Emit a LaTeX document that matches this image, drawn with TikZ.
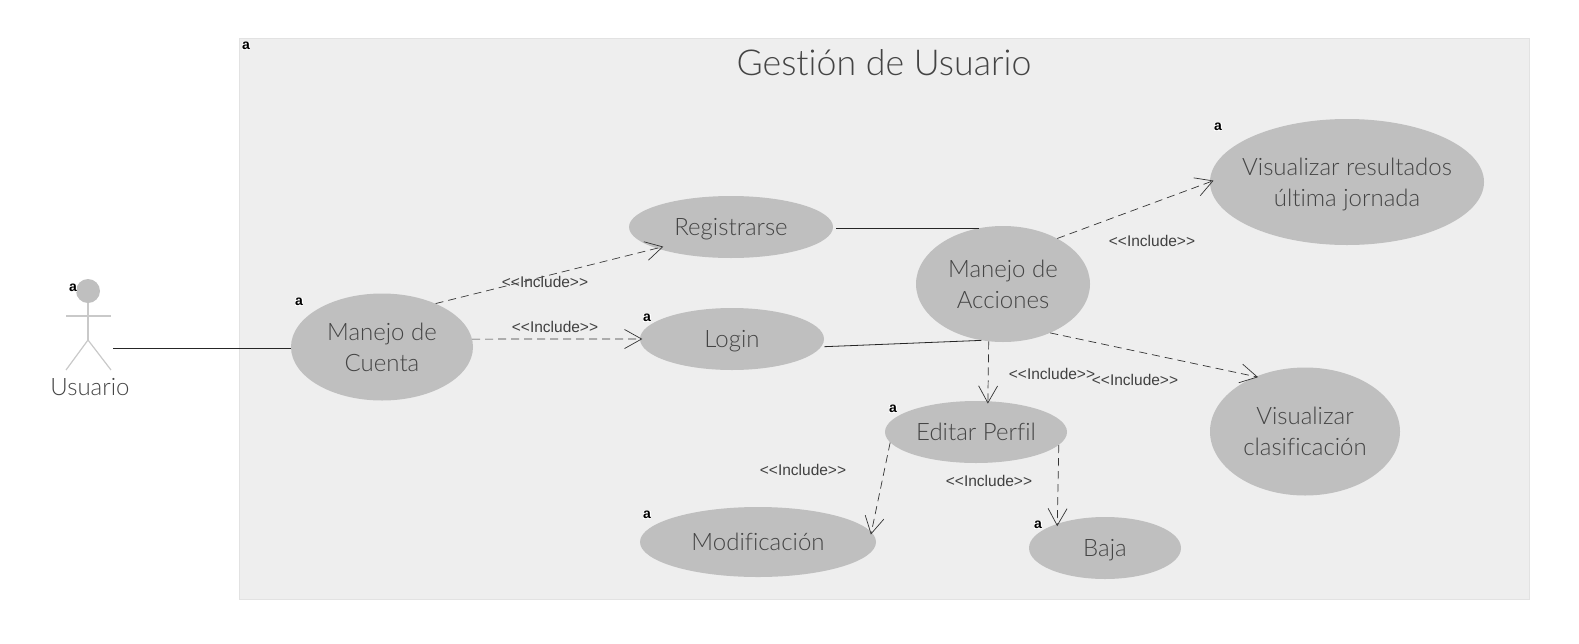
\documentclass[tikz,border=0pt]{standalone}
\usepackage{fontspec}
\setmainfont{Lato}[UprightFont=* Light,BoldFont=* Bold,Ligatures=NoCommon]
\newfontfamily\inclfont{Liberation Sans}
\usetikzlibrary{shapes.geometric,arrows.meta}
\definecolor{framefill}{HTML}{EEEEEE}
\definecolor{frameline}{HTML}{E2E2E2}
\definecolor{casefill}{HTML}{BFBFBF}
\definecolor{casetext}{HTML}{444444}
\newcommand{\caselines}[1]{\raisebox{-2.5pt}[\height][\depth]{\begin{tabular}{@{}c@{}}#1\end{tabular}}}
\tikzset{
  usecase/.style={ellipse,fill=casefill,text=casetext,inner sep=-30pt,font=\fontsize{24}{31}\selectfont},
  incl/.style={font=\inclfont\fontsize{15.5}{17}\selectfont,text=black!75},
  mark a/.style={fill=white,text=black,inner xsep=.5pt,inner ysep=0pt,font=\inclfont\fontsize{14}{14}\bfseries\selectfont},
  depline/.style={dashed,dash pattern=on 8pt off 5pt,draw=black!80,line width=.7pt,shorten >=-2.5pt,-{Straight Barb[length=17pt,width=19pt]}},
  assoc/.style={draw=black!85,line width=.8pt},
  limb/.style={draw=casefill!85!white,line width=1.2pt}
}
\begin{document}
\begin{tikzpicture}[x=1pt,y=-1pt]
  \useasboundingbox (0,0) rectangle (1579,643);
  \node[draw=frameline,fill=framefill,minimum width=1290pt,minimum height=561pt,inner sep=0pt] (frame) at (884,318.5) {};
  \node[font=\fontsize{35.7}{40}\selectfont,text=casetext] (title) at (884,63) {Gestión de Usuario};

  % actor
  \node[circle,fill=casefill,minimum size=24pt,inner sep=0pt] (head) at (88,291) {};
  \coordinate (hip) at (88,340);
  \draw[limb] (head) -- (hip);
  \draw[limb] (66,316) -- (111,316);
  \draw[limb] (66,370) -- (hip) -- (111,370);
  \node[font=\fontsize{24}{26}\selectfont,text=casetext] (usuario) at (90,387) {Usuario};
  \coordinate (hand) at (113,348);

  % use cases
  \node[usecase,minimum width=182pt,minimum height=107pt] (cuenta) at (382,347) {\caselines{Manejo de\\Cuenta}};
  \node[usecase,minimum width=204pt,minimum height=62pt] (registro) at (731,227) {\caselines{Registrarse}};
  \node[usecase,minimum width=184pt,minimum height=62pt] (login) at (732,339) {\caselines{Login}};
  \node[usecase,minimum width=174pt,minimum height=116pt] (acciones) at (1003,284) {\caselines{Manejo de\\Acciones}};
  \node[usecase,minimum width=274pt,minimum height=126pt] (resultados) at (1347,182) {\caselines{Visualizar resultados\\última jornada}};
  \node[usecase,minimum width=190pt,minimum height=128pt] (clasif) at (1305,431.5) {\caselines{Visualizar\\clasificación}};
  \node[usecase,minimum width=182pt,minimum height=62pt] (perfil) at (976,432) {\caselines{Editar Perfil}};
  \node[usecase,minimum width=236pt,minimum height=70pt] (modif) at (758,542) {\caselines{Modificación}};
  \node[usecase,minimum width=152pt,minimum height=62pt] (baja) at (1105,548) {\caselines{Baja}};

  % connectors
  \draw[assoc] (hand) -- (cuenta.west |- hand);
  \draw[assoc,shorten <=3pt] (acciones.113 -| registro.east) -- (acciones.113);
  \draw[assoc,shorten <=3pt] (login.-5) -- (acciones.249);
  \draw[depline,shorten >=-7pt] (cuenta.39) -- (registro.196);
  \draw[depline] (cuenta.5) -- (login.west);
  \draw[depline,shorten >=-4pt] (acciones.40) -- (resultados.west);
  \draw[depline] (acciones.-46) -- (clasif.132);
  \draw[depline] (acciones.256) -- (perfil.69);
  \draw[depline] (perfil.187) -- (modif.5);
  \draw[depline] (perfil.-9) -- (baja.153);

  % labels
  \node[incl] (inc1) at (545,282) {<{}<Include>{}>};
  \node[incl] (inc2) at (555,327) {<{}<Include>{}>};
  \node[incl] (inc3) at (1152,241) {<{}<Include>{}>};
  \node[incl] (inc4) at (1052,374) {<{}<Include>{}>};
  \node[incl] (inc5) at (1135,380) {<{}<Include>{}>};
  \node[incl] (inc6) at (989,481) {<{}<Include>{}>};
  \node[incl] (inc7) at (803,470) {<{}<Include>{}>};

  % small marks
  \node[mark a] (m1) at (246,46) {a};
  \node[mark a] (m2) at (73,288) {a};
  \node[mark a] (m3) at (299,302) {a};
  \node[mark a] (m4) at (647,318) {a};
  \node[mark a] (m5) at (1218,127) {a};
  \node[mark a] (m6) at (893,409) {a};
  \node[mark a] (m7) at (1038,525) {a};
  \node[mark a] (m8) at (647,515) {a};
\end{tikzpicture}
\end{document}
